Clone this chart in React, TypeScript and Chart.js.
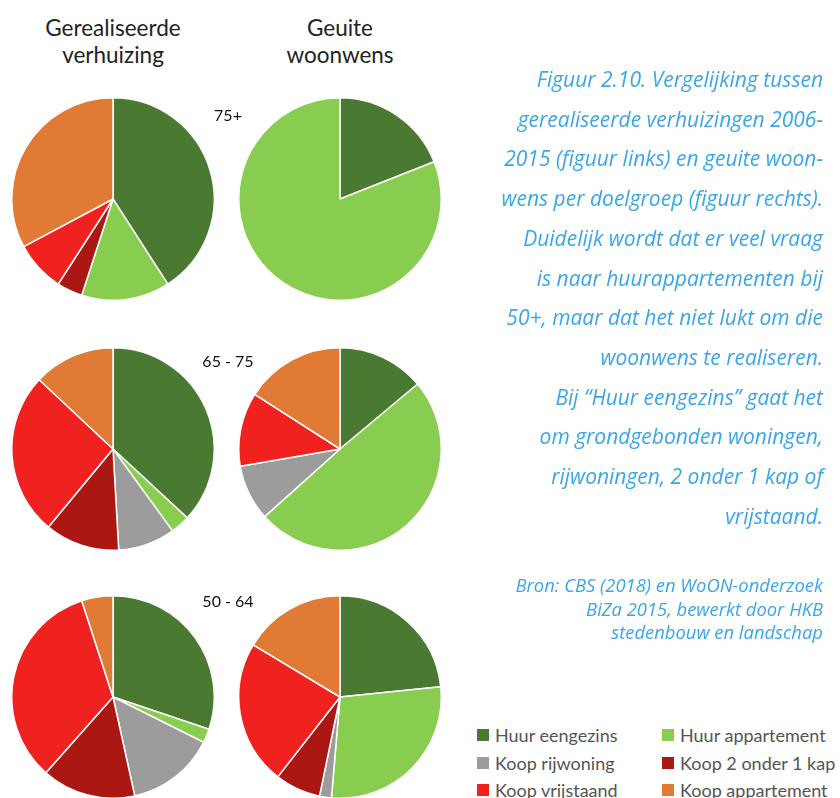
import React, { useEffect, useRef } from "react";
import { Chart, registerables } from "chart.js";

Chart.register(...registerables);

const categories = [
  "Huur eengezins",
  "Huur appartement",
  "Koop rijwoning",
  "Koop 2 onder 1 kap",
  "Koop vrijstaand",
  "Koop appartement",
];
const colors = ["#4a7a32", "#88cc50", "#9c9c9c", "#ab1813", "#f0221f", "#e07a34"];

const ageGroups = ["75+", "65 - 75", "50 - 64"];
const columnTitles = [["Gerealiseerde", "verhuizing"], ["Geuite", "woonwens"]];

const realised75 = [40.9, 14.1, 0, 4.1, 8.1, 32.8];
const wish75 = [19, 81, 0, 0, 0, 0];
const realised65 = [36.9, 3.1, 9.1, 11.9, 26, 13];
const wish65 = [13.9, 49.4, 8.9, 0, 11.8, 15.9];
const realised50 = [30.2, 2.2, 14.2, 15, 33.5, 5];
const wish50 = [23.4, 28, 1.9, 7.3, 23.1, 16.4];

const captionLines = [
  "Figuur 2.10. Vergelijking tussen",
  "gerealiseerde verhuizingen 2006-",
  "2015 (figuur links) en geuite woon-",
  "wens per doelgroep (figuur rechts).",
  "Duidelijk wordt dat er veel vraag",
  "is naar huurappartementen bij",
  "50+, maar dat het niet lukt om die",
  "woonwens te realiseren.",
  "Bij \u201cHuur eengezins\u201d gaat het",
  "om grondgebonden woningen,",
  "rijwoningen, 2 onder 1 kap of",
  "vrijstaand.",
];
const sourceLines = [
  "Bron: CBS (2018) en WoON-onderzoek",
  "BiZa 2015, bewerkt door HKB",
  "stedenbouw en landschap",
];

const SIZE = 204;

function Pie({ values, cx, cy }: { values: number[]; cx: number; cy: number }) {
  const ref = useRef<HTMLCanvasElement | null>(null);
  useEffect(() => {
    if (!ref.current) return;
    const chart = new Chart(ref.current, {
      type: "pie",
      data: {
        labels: categories,
        datasets: [
          {
            data: values,
            backgroundColor: colors,
            borderColor: "#ffffff",
            borderWidth: 1.5,
          },
        ],
      },
      options: {
        responsive: false,
        animation: false,
        layout: { padding: 0 },
        plugins: { legend: { display: false }, tooltip: { enabled: false } },
      },
    });
    return () => chart.destroy();
  }, [values]);
  return (
    <canvas
      ref={ref}
      width={SIZE}
      height={SIZE}
      style={{ position: "absolute", left: cx - SIZE / 2, top: cy - SIZE / 2, width: SIZE, height: SIZE }}
    />
  );
}

export default function App() {
  const rows = [
    { left: realised75, right: wish75, cy: 199, labelY: 115 },
    { left: realised65, right: wish65, cy: 449, labelY: 361 },
    { left: realised50, right: wish50, cy: 697, labelY: 601 },
  ];
  const headFont = "Lato, 'DejaVu Sans', sans-serif";
  return (
    <div
      style={{
        position: "absolute",
        left: 0,
        top: 0,
        width: 840,
        height: 798,
        background: "#fff",
        overflow: "hidden",
        fontFamily: headFont,
      }}
    >
      {columnTitles.map((t, i) => (
        <div
          key={i}
          style={{
            position: "absolute",
            left: (i === 0 ? 113 : 340) - 110,
            width: 220,
            top: 14,
            textAlign: "center",
            fontSize: 22.5,
            lineHeight: "27px",
            color: "#222",
          }}
        >
          {t[0]}
          <br />
          {t[1]}
        </div>
      ))}
      {rows.map((r, i) => (
        <React.Fragment key={i}>
          <Pie values={r.left} cx={113} cy={r.cy} />
          <Pie values={r.right} cx={340} cy={r.cy} />
          <div
            style={{
              position: "absolute",
              left: 178,
              width: 100,
              top: r.labelY - 10,
              textAlign: "center",
              fontSize: 16,
              lineHeight: "20px",
              color: "#111",
            }}
          >
            {ageGroups[i]}
          </div>
        </React.Fragment>
      ))}
      <div
        style={{
          position: "absolute",
          right: 840 - 823,
          top: 60,
          width: 420,
          textAlign: "right",
          fontFamily: "'Open Sans', sans-serif",
          fontStyle: "italic",
          fontSize: 21,
          lineHeight: "39.7px",
          color: "#3aa6e6",
        }}
      >
        {captionLines.map((l, i) => (
          <div key={i}>{l}</div>
        ))}
      </div>
      <div
        style={{
          position: "absolute",
          right: 840 - 823,
          top: 573,
          width: 420,
          textAlign: "right",
          fontFamily: "'Open Sans', sans-serif",
          fontStyle: "italic",
          fontSize: 18.4,
          lineHeight: "23.5px",
          color: "#3aa6e6",
        }}
      >
        {sourceLines.map((l, i) => (
          <div key={i}>{l}</div>
        ))}
      </div>
      {categories.map((c, i) => {
        const col = i % 2;
        const row = Math.floor(i / 2);
        const x = col === 0 ? 477 : 662;
        const y = 735 + row * 27.5;
        return (
          <div
            key={c}
            style={{
              position: "absolute",
              left: x,
              top: y - 11,
              height: 22,
              display: "flex",
              alignItems: "center",
              whiteSpace: "nowrap",
              fontSize: 18,
              color: "#555",
            }}
          >
            <span style={{ display: "inline-block", width: 12, height: 12, background: colors[i], marginRight: 6 }} />
            {c}
          </div>
        );
      })}
    </div>
  );
}
